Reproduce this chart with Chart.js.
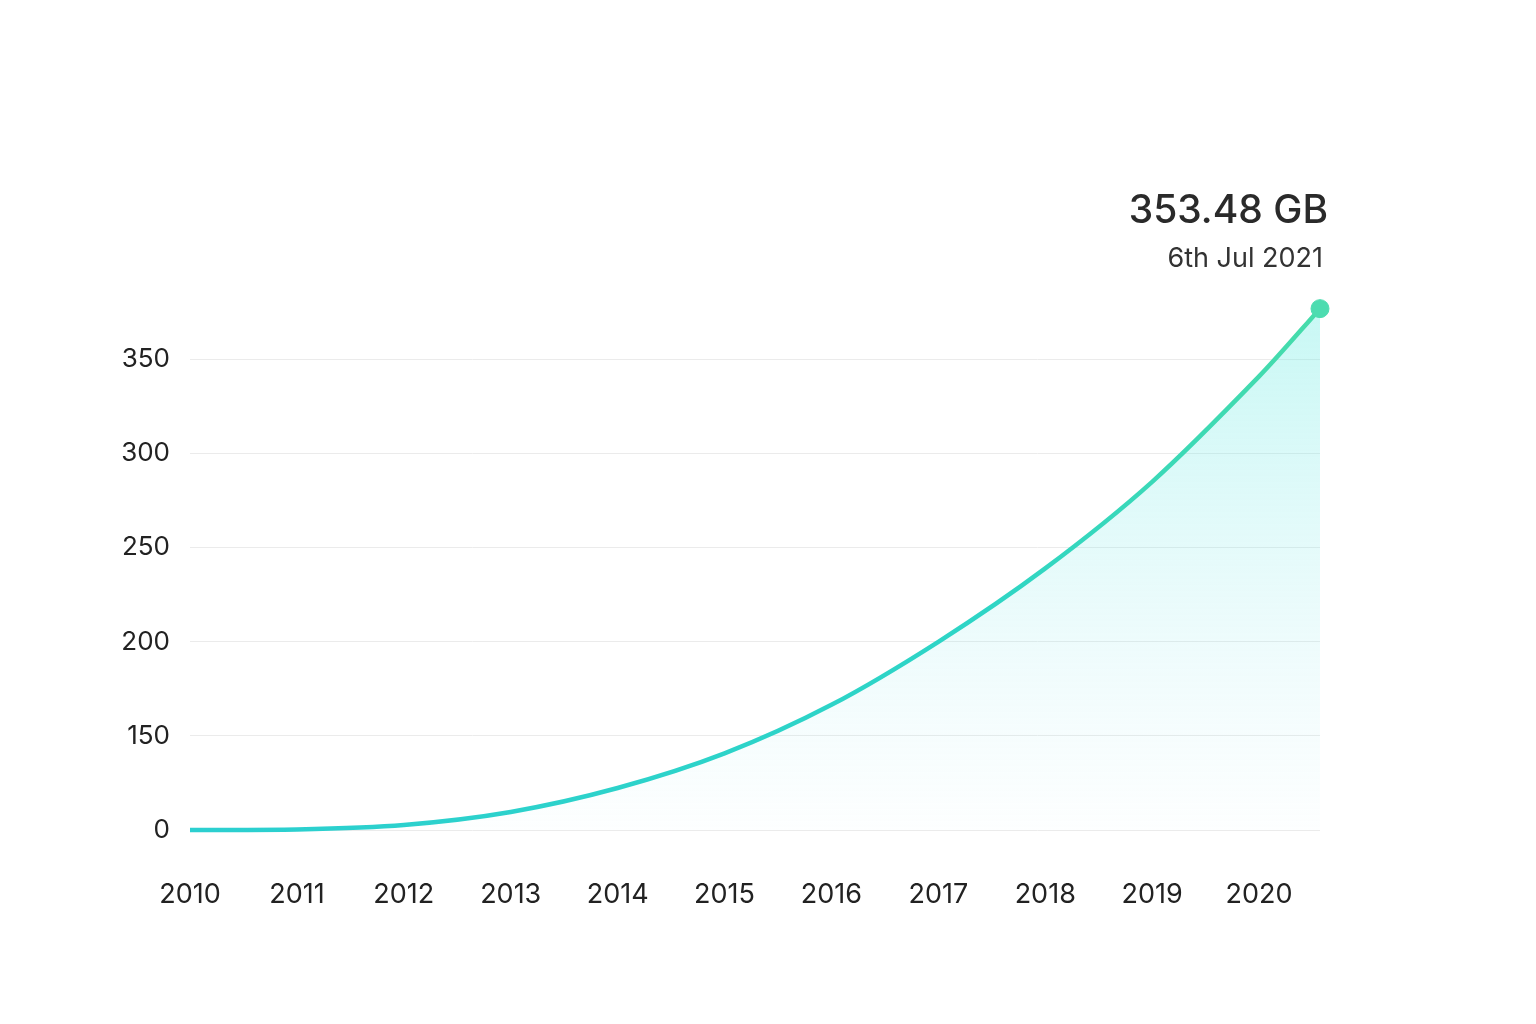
<!DOCTYPE html>
<html>
<head>
<meta charset="utf-8">
<title>Storage growth</title>
<script src="https://cdn.jsdelivr.net/npm/chart.js@4.4.0/dist/chart.umd.min.js"></script>
<style>
  html, body { margin: 0; padding: 0; background: #fff; }
  #wrap { width: 1536px; height: 1024px; }
</style>
</head>
<body>
<div id="wrap"><canvas id="chart" width="1536" height="1024"></canvas></div>
<script>
// x positions in years; last point is the latest reading
const years = [2010, 2011, 2012, 2013, 2014, 2015, 2016, 2017, 2018, 2019, 2020, 2020.57];
// values in axis units (the gridline labelled "0" sits at 100 on this scale)
const storage = [100, 100.3, 102.7, 109.6, 122.3, 140.7, 166.5, 200, 239, 285, 341, 377];

const xTickValues = [2010, 2011, 2012, 2013, 2014, 2015, 2016, 2017, 2018, 2019, 2020];
const xTickLabels = ['2010', '2011', '2012', '2013', '2014', '2015', '2016', '2017', '2018', '2019', '2020'];
const yTickValues = [100, 150, 200, 250, 300, 350];
const yTickLabels = ['0', '150', '200', '250', '300', '350'];

const latestValue = '353.48 GB';
const latestDate = '6th Jul 2021';

const FONT = 'Inter, "Noto Sans", sans-serif';

// draws the value + date callout above the last point
const latestLabel = {
  id: 'latestLabel',
  afterDatasetsDraw(chart) {
    const meta = chart.getDatasetMeta(0);
    const last = meta.data[meta.data.length - 1];
    if (!last) return;
    const { ctx } = chart;
    ctx.save();
    ctx.textAlign = 'right';
    ctx.textBaseline = 'alphabetic';
    ctx.fillStyle = '#2a2a2a';
    ctx.font = `500 39px ${FONT}`;
    ctx.fillText(latestValue, last.x + 8, last.y - 86);
    ctx.fillStyle = '#333';
    ctx.font = `400 27px ${FONT}`;
    ctx.fillText(latestDate, last.x + 3, last.y - 42);
    ctx.restore();
  },
};

const lineGradient = (ctx) => {
  const { chartArea } = ctx.chart;
  if (!chartArea) return '#2dd2cc';
  const g = ctx.chart.ctx.createLinearGradient(chartArea.left, 0, chartArea.right, 0);
  g.addColorStop(0, '#2bcfd0');
  g.addColorStop(0.7, '#2ed5c6');
  g.addColorStop(1, '#46dcaa');
  return g;
};

const fillGradient = (ctx) => {
  const { chartArea } = ctx.chart;
  if (!chartArea) return 'rgba(100,235,225,0.2)';
  const g = ctx.chart.ctx.createLinearGradient(0, chartArea.top, 0, chartArea.bottom);
  g.addColorStop(0, 'rgba(100,235,225,0.36)');
  g.addColorStop(1, 'rgba(150,230,240,0.02)');
  return g;
};

new Chart(document.getElementById('chart'), {
  type: 'line',
  data: {
    datasets: [{
      data: years.map((x, i) => ({ x, y: storage[i] })),
      borderColor: lineGradient,
      backgroundColor: fillGradient,
      borderWidth: 4.5,
      fill: 'start',
      tension: 0.3,
      clip: false,
      pointRadius: (c) => (c.dataIndex === years.length - 1 ? 9 : 0),
      pointBackgroundColor: '#4ddcb0',
      pointBorderColor: '#4ddcb0',
      pointBorderWidth: 1,
    }],
  },
  options: {
    responsive: false,
    animation: false,
    devicePixelRatio: 1,
    layout: { padding: { top: 303, right: 216, left: 0, bottom: 0 } },
    plugins: { legend: { display: false }, tooltip: { enabled: false } },
    scales: {
      x: {
        type: 'linear',
        min: 2010,
        max: 2020.57,
        afterBuildTicks: (scale) => { scale.ticks = xTickValues.map(value => ({ value })); },
        afterFit: (scale) => { scale.height = 194; },
        grid: { display: false, drawTicks: false },
        border: { display: false },
        ticks: {
          padding: 49,
          color: '#222',
          font: { family: FONT, size: 27 },
          maxRotation: 0,
          callback: (v, i) => xTickLabels[i],
        },
      },
      y: {
        min: 100,
        max: 380,
        afterBuildTicks: (scale) => { scale.ticks = yTickValues.map(value => ({ value })); },
        afterFit: (scale) => { scale.width = 190; },
        grid: { color: '#ebebeb', lineWidth: 1, drawTicks: false },
        border: { display: false },
        ticks: {
          padding: 20,
          color: '#222',
          font: { family: FONT, size: 26 },
          callback: (v, i) => yTickLabels[i],
        },
      },
    },
  },
  plugins: [latestLabel],
});
</script>
</body>
</html>
